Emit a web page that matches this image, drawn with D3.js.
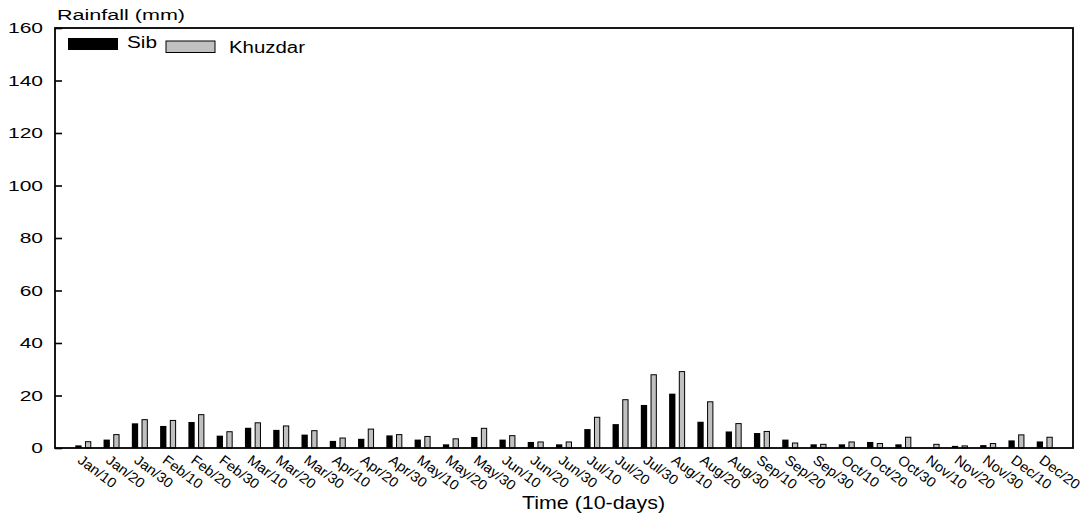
<!DOCTYPE html>
<html>
<head>
<meta charset="utf-8">
<script src="https://cdn.jsdelivr.net/npm/d3@7/dist/d3.min.js"></script>
<style>
  html, body { margin: 0; padding: 0; background: #fff; }
  svg { display: block; font-family: "Liberation Sans", Arial, sans-serif; }
</style>
</head>
<body>
<svg id="chart" width="1091" height="514"></svg>
<script>
// ---- data ----
const categories = ["Jan/10","Jan/20","Jan/30","Feb/10","Feb/20","Feb/30","Mar/10","Mar/20","Mar/30",
  "Apr/10","Apr/20","Apr/30","May/10","May/20","May/30","Jun/10","Jun/20","Jun/30",
  "Jul/10","Jul/20","Jul/30","Aug/10","Aug/20","Aug/30","Sep/10","Sep/20","Sep/30",
  "Oct/10","Oct/20","Oct/30","Nov/10","Nov/20","Nov/30","Dec/10","Dec/20"];
const seriesNames = ["Sib", "Khuzdar"];
const sib = [1.0, 3.2, 9.4, 8.4, 9.9, 4.7, 7.7, 6.9, 5.1, 2.7, 3.5, 4.8, 3.2, 1.4, 4.2, 3.2, 2.3, 1.4,
  7.2, 9.1, 16.4, 20.7, 10.0, 6.3, 5.7, 3.2, 1.4, 1.4, 2.3, 1.4, 0, 0.8, 1.1, 2.9, 2.5];
const khuzdar = [2.4, 5.1, 10.8, 10.5, 12.7, 6.2, 9.6, 8.4, 6.6, 3.8, 7.2, 5.1, 4.4, 3.5, 7.5, 4.7, 2.3, 2.3,
  11.7, 18.4, 27.9, 29.1, 17.6, 9.3, 6.3, 1.9, 1.4, 2.3, 1.7, 4.1, 1.4, 0.8, 1.7, 5.0, 4.1];
const yTicks = [0, 20, 40, 60, 80, 100, 120, 140, 160];
const yLabel = "Rainfall (mm)";
const xLabel = "Time (10-days)";

// ---- layout ----
const L = 55, R = 1073, T = 28, B = 448;
const svg = d3.select("#chart");

const x0 = d3.scaleBand().domain(categories).range([L, R]).paddingInner(0).paddingOuter(0.5);
const x1 = d3.scaleBand().domain(seriesNames).range([-8, 8]).paddingInner(0.35);
const y = d3.scaleLinear().domain([0, 160]).range([B, T]);
const fills = { "Sib": "#000000", "Khuzdar": "#c0c0c0" };

function stretch(sel, factor) {
  sel.each(function () {
    const w = this.getComputedTextLength();
    d3.select(this).attr("textLength", w * factor).attr("lengthAdjust", "spacingAndGlyphs");
  });
}

// bars
const rows = categories.map((c, i) => ({ c, vals: [{ k: "Sib", v: sib[i] }, { k: "Khuzdar", v: khuzdar[i] }] }));
const groups = svg.append("g").selectAll("g").data(rows).join("g")
  .attr("transform", d => `translate(${x0(d.c) + x0.bandwidth() / 2},0)`);
groups.selectAll("rect").data(d => d.vals.filter(e => e.v > 0)).join("rect")
  .attr("x", e => x1(e.k) + (e.k === "Khuzdar" ? 0.5 : 0))
  .attr("width", e => x1.bandwidth() - (e.k === "Khuzdar" ? 1 : 0))
  .attr("y", e => y(e.v))
  .attr("height", e => B - y(e.v))
  .attr("fill", e => fills[e.k])
  .attr("stroke", e => e.k === "Khuzdar" ? "#000" : "none")
  .attr("stroke-width", 1);

// y axis
const gy = svg.append("g").attr("transform", `translate(${L},0)`)
  .call(d3.axisLeft(y).tickValues(yTicks).tickSizeInner(-7).tickSizeOuter(0).tickPadding(12));
gy.select(".domain").remove();
gy.selectAll(".tick line").attr("stroke", "#000").attr("stroke-width", 1.6);
gy.selectAll(".tick text").attr("font-size", 15).attr("fill", "#000")
  .attr("font-family", "Liberation Sans, Arial, sans-serif");
stretch(gy.selectAll(".tick text"), 1.4);

// x axis
const gx = svg.append("g").attr("transform", `translate(0,${B})`)
  .call(d3.axisBottom(x0).tickSize(0));
gx.select(".domain").remove();
gx.selectAll(".tick text")
  .attr("font-size", 14).attr("fill", "#000")
  .attr("font-family", "Liberation Sans, Arial, sans-serif")
  .attr("text-anchor", "start")
  .attr("x", 0).attr("y", 0).attr("dy", 0)
  .attr("transform", "translate(-6.5,14) rotate(37)");
stretch(gx.selectAll(".tick text"), 1.05);

// frame
svg.append("rect").attr("x", L).attr("y", T).attr("width", R - L).attr("height", B - T)
  .attr("fill", "none").attr("stroke", "#000").attr("stroke-width", 1.8);

// titles
svg.append("text").attr("x", 57).attr("y", 20).attr("font-size", 14).attr("fill", "#000")
  .attr("textLength", 128).attr("lengthAdjust", "spacingAndGlyphs").text(yLabel);
svg.append("text").attr("x", 522).attr("y", 509).attr("font-size", 17.5).attr("fill", "#000")
  .attr("textLength", 143).attr("lengthAdjust", "spacingAndGlyphs").text(xLabel);

// legend
const legend = [
  { k: "Sib", rx: 68, ry: 38, rw: 50, rh: 12, tx: 127, ty: 48, tw: 30 },
  { k: "Khuzdar", rx: 166, ry: 41, rw: 49, rh: 11.5, tx: 229, ty: 53, tw: 76 }
];
const lg = svg.append("g");
lg.selectAll("rect").data(legend).join("rect")
  .attr("x", d => d.rx).attr("y", d => d.ry).attr("width", d => d.rw).attr("height", d => d.rh)
  .attr("fill", d => fills[d.k]).attr("stroke", d => d.k === "Khuzdar" ? "#000" : "none");
lg.selectAll("text").data(legend).join("text")
  .attr("x", d => d.tx).attr("y", d => d.ty).attr("font-size", 16).attr("fill", "#000")
  .attr("textLength", d => d.tw).attr("lengthAdjust", "spacingAndGlyphs")
  .text(d => d.k);
</script>
</body>
</html>
